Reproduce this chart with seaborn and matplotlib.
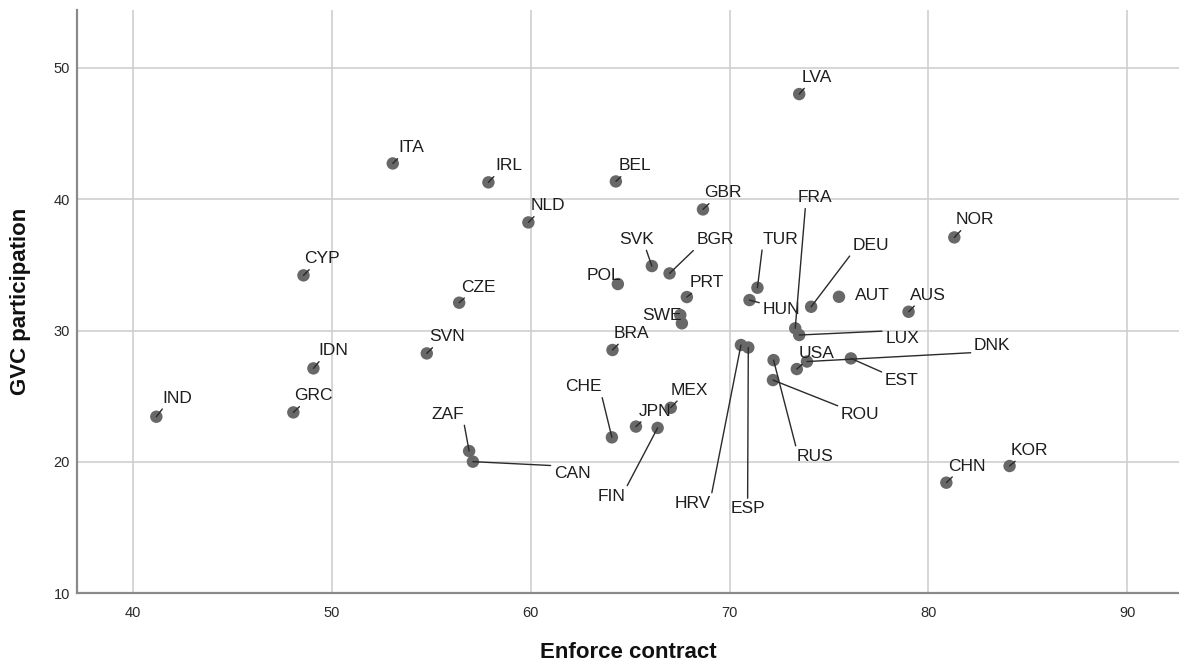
import matplotlib
matplotlib.use("Agg")
import matplotlib.pyplot as plt
import seaborn as sns
import pandas as pd

# ---------------- data ----------------
countries = ["IND", "GRC", "IDN", "CYP", "ITA", "IRL", "NLD", "CZE", "SVN", "ZAF",
             "CAN", "BEL", "POL", "SVK", "BGR", "GBR", "PRT", "SWE", "", "BRA",
             "CHE", "JPN", "MEX", "FIN", "HRV", "ESP", "TUR", "HUN", "FRA", "LUX",
             "LVA", "DEU", "AUT", "AUS", "NOR", "USA", "DNK", "EST", "ROU", "RUS",
             "CHN", "KOR"]
enforce_contract = [41.17, 48.06, 49.07, 48.57, 53.06, 57.87, 59.88, 56.40, 54.77, 56.90,
                    57.09, 64.28, 64.38, 66.09, 66.98, 68.66, 67.85, 67.52, 67.60, 64.11,
                    64.08, 65.29, 67.04, 66.38, 70.57, 70.94, 71.40, 71.00, 73.30, 73.50,
                    73.50, 74.10, 75.50, 79.00, 81.30, 73.38, 73.89, 76.10, 72.18, 72.21,
                    80.90, 84.08]
gvc_participation = [23.44, 23.77, 27.12, 34.20, 42.72, 41.28, 38.23, 32.12, 28.26, 20.83,
                     20.02, 41.35, 33.54, 34.91, 34.35, 39.22, 32.55, 31.18, 30.55, 28.52,
                     21.87, 22.69, 24.12, 22.59, 28.90, 28.71, 33.26, 32.32, 30.17, 29.66,
                     48.00, 31.81, 32.57, 31.43, 37.09, 27.07, 27.64, 27.88, 26.23, 27.75,
                     18.42, 19.69]
x_ticks = [40, 50, 60, 70, 80, 90]
y_ticks = [10, 20, 30, 40, 50]

# ---------------- label layout (offset in pixels from point to label baseline-left,
#  attach point of leader on the label box; "short" = short diagonal tick; None = none)
label_layout = {
    "IND": ((6, 14), "short"), "GRC": ((1, 12), "short"), "IDN": ((5, 13), "short"),
    "CYP": ((1, 12), "short"), "ITA": ((6, 11), "short"), "IRL": ((7, 12), "short"),
    "NLD": ((2, 12), "short"), "CZE": ((2, 11), "short"), "SVN": ((2, 12), "short"),
    "ZAF": ((-38, 32), (1, 0)), "CAN": ((81, -16), (0, 1)), "BEL": ((3, 11), "short"),
    "POL": ((-31, 4), None), "SVK": ((-33, 22), (0.76, 0)), "BGR": ((27, 29), (0, 0)),
    "GBR": ((1, 12), "short"), "PRT": ((3, 10), "short"), "SWE": ((-38, -5), None),
    "BRA": ((1, 12), "short"), "CHE": ((-47, 46), (1, 0)), "JPN": ((3, 11), "short"),
    "MEX": ((0, 13), "short"), "FIN": ((-60, -73), (1, 1)), "HRV": ((-66, -163), (1, 1)),
    "ESP": ((-18, -166), (0.5, 1)), "TUR": ((5, 44), (0, 0)), "HUN": ((13, -14), (0, 0.9)),
    "FRA": ((2, 126), (0.24, 0)), "LUX": ((86, -8), (0, 1)), "LVA": ((2, 12), "short"),
    "DEU": ((41, 57), (0, 0)), "AUT": ((16, -3), None), "AUS": ((1, 12), "short"),
    "NOR": ((1, 13), "short"), "USA": ((2, 11), "short"), "DNK": ((167, 12), (0, 0)),
    "EST": ((34, -27), (0, 1)), "ROU": ((68, -39), (0, 1)), "RUS": ((23, -101), (0, 1)),
    "CHN": ((2, 12), "short"), "KOR": ((1, 11), "short"),
}

df = pd.DataFrame({"country": countries, "Enforce contract": enforce_contract,
                   "GVC participation": gvc_participation})

sns.set_style("white")
plt.rcParams["font.family"] = ["Liberation Sans", "DejaVu Sans"]

fig = plt.figure(figsize=(11.79, 6.66), dpi=100)
ax = fig.add_axes([77 / 1179, (666 - 593.3) / 666, 1 - 77 / 1179, (593.3 - 10) / 666])

ax.set_xlim(37.18, 92.6)
ax.set_ylim(10, 54.4)
ax.set_xticks(x_ticks)
ax.set_yticks(y_ticks)
ax.grid(True, color="#cfcfcf", linewidth=1.2)
ax.set_axisbelow(True)

sns.scatterplot(data=df, x="Enforce contract", y="GVC participation", ax=ax,
                s=80, color="#686868", edgecolor="none", zorder=3, legend=False)

for name, xv, yv in zip(countries, enforce_contract, gvc_participation):
    if not name:
        continue
    (dx, dy), rel = label_layout[name]
    kw = {}
    if rel == "short":
        # short diagonal tick ending about 9 px to the right of the point
        rel = (max(0.0, (9 - dx) / 36.0), 0)
    if rel is not None:
        kw["arrowprops"] = dict(arrowstyle="-", color="#2a2a2a", lw=1.0,
                                shrinkA=0, shrinkB=0, relpos=rel)
    ax.annotate(name, xy=(xv, yv), xytext=(dx, dy), textcoords="offset pixels",
                ha="left", va="baseline", fontsize=12.5, color="#1e1e1e",
                zorder=4, **kw)

for side in ["top", "right"]:
    ax.spines[side].set_visible(False)
for side in ["left", "bottom"]:
    ax.spines[side].set_color("#8a8a8a")
    ax.spines[side].set_linewidth(1.6)

ax.tick_params(axis="both", length=0, labelsize=10.5, labelcolor="#2a2a2a")
ax.tick_params(axis="x", pad=9)
ax.tick_params(axis="y", pad=5)
ax.set_xlabel("Enforce contract", fontsize=16, fontweight="bold", labelpad=16, color="#111111")
ax.set_ylabel("GVC participation", fontsize=16, fontweight="bold", labelpad=16, color="#111111")

fig.savefig("out.png", dpi=100)
